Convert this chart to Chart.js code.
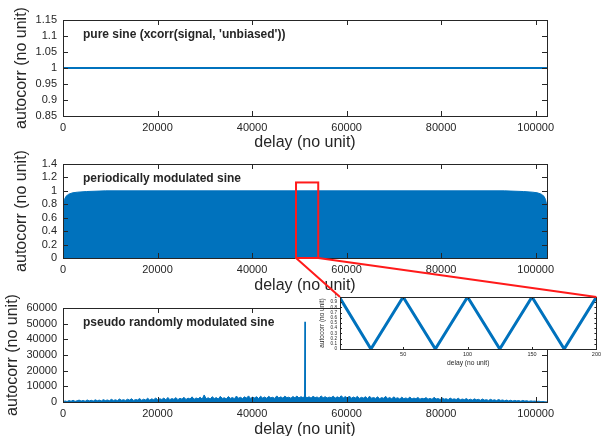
<!DOCTYPE html>
<html><head><meta charset="utf-8">
<script src="https://cdn.jsdelivr.net/npm/chart.js@4.4.1/dist/chart.umd.min.js"></script>
<style>
html,body{margin:0;padding:0;background:#fff;overflow:hidden;}
#wrap{position:relative;width:603px;height:436px;overflow:hidden;background:#fff;}
canvas{position:absolute;left:0;top:0;}
</style></head><body>
<div id="wrap">
<canvas id="c1" width="603" height="460"></canvas>
<canvas id="c2" width="603" height="460"></canvas>
<canvas id="c3" width="603" height="460"></canvas>
<canvas id="c4" width="603" height="460"></canvas>
</div>
<script>
// ---------- data ----------
const delayMax = 102400;
const delayTicks = [0, 20000, 40000, 60000, 80000, 100000];

// 1) pure sine
const pureDelay = [0, 102400];
const pureAutocorr = [1, 1];
const pureTicks = [0.85, 0.9, 0.95, 1, 1.05, 1.1, 1.15];

// 2) periodically modulated sine (envelope of the dense oscillation)
const modDelay = [0, 100, 300, 650, 1200, 2000, 3000, 5000, 9000, 51200, 93400, 97400, 99400, 100400, 101200, 101750, 102100, 102300, 102400];
const modAutocorr = [0.72, 0.8, 0.87, 0.92, 0.95, 0.97, 0.98, 0.99, 1.0, 1.0, 1.0, 0.99, 0.98, 0.97, 0.95, 0.92, 0.87, 0.8, 0.72];
const modTicks = [0, 0.2, 0.4, 0.6, 0.8, 1, 1.2, 1.4];
const zoomWindow = [49300, 54000];
const zoomTop = 1.125;

// 3) pseudo randomly modulated sine (evenly spaced samples of the noise floor + central peak)
const prnNoise = [
  100, 700, 300, 900, 500, 1100, 400, 800, 1200, 600, 1000, 500, 1300, 700, 1100, 600, 1400, 800, 1200, 700,
  1500, 900, 1300, 800, 1700, 1000, 1400, 900, 1900, 1100, 1500, 1000, 1800, 1200, 2100, 1000, 1600, 1300, 2200, 1100,
  1800, 1300, 2400, 1200, 2000, 1500, 2600, 1300, 2100, 1600, 2500, 1400, 2900, 1500, 2200, 1700, 2800, 1500, 2400, 1800,
  3000, 1600, 2500, 1900, 3300, 1700, 2600, 2000, 3100, 1800, 4500, 2100, 2700, 1900, 3400, 2200, 2800, 1900, 3600, 2300,
  2700, 2000, 3500, 2300, 2900, 2100, 3800, 2400, 3000, 2200, 3300, 2500, 3900, 2300, 3100, 2600, 3400, 2200, 3700, 2500,
  3200, 2400, 3600, 2700, 3000, 2300, 3900, 2600, 3300, 2500, 3700, 2800, 3100, 2400, 3500, 2700, 3800, 2600, 3400, 2800,
  3700, 2700, 3300, 2500, 3600, 2800, 3200, 2400, 3900, 2700, 3400, 2600, 3100, 2800, 3700, 2500, 3300, 2700, 4000, 2600,
  3500, 2500, 3800, 2400, 3200, 2600, 3600, 2300, 3000, 2500, 3400, 2200, 3700, 2400, 2900, 2300, 3300, 2100, 2800, 2400,
  3600, 2200, 2900, 2000, 3300, 2300, 2700, 1900, 3100, 2100, 2600, 2000, 3200, 1900, 2500, 2100, 2900, 1800, 2400, 2000,
  2800, 1800, 2300, 1700, 3000, 1900, 2200, 1600, 2600, 1800, 2100, 1500, 2500, 1700, 2000, 1600, 2400, 1400, 1900, 1500,
  2200, 1300, 1800, 1200, 2000, 1400, 1700, 1100, 1900, 1200, 1500, 1000, 1700, 1100, 1400, 900, 1600, 1000, 1300, 800,
  1200, 700, 1100, 600, 1000, 700, 900, 500, 1000, 600, 800, 400, 700, 500, 600, 300, 500, 200, 300, 100,
  50];
const peakDelay = [51150, 51200, 51250];
const peakAutocorr = [0, 51200, 0];
const prnTicks = [0, 10000, 20000, 30000, 40000, 50000, 60000];

// inset: zoom of periodically modulated sine
const zoomDelay = [1, 25, 50, 75, 100, 125, 150, 175, 200];
const zoomAutocorr = [0.98, 0, 1, 0, 1, 0, 1, 0, 1];
const zoomXTicks = [50, 100, 150, 200];
const zoomYTicks = [0, 0.1, 0.2, 0.3, 0.4, 0.5, 0.6, 0.7, 0.8, 0.9, 1];

// ---------- styling ----------
const FAM = '"Liberation Sans", Arial, Helvetica, sans-serif';
const TXT = '#262626';
const BLUE = '#0072BD';
Chart.defaults.font.family = FAM;
Chart.defaults.color = TXT;

const pts = (xs, ys) => xs.map((x, i) => ({x, y: ys[i]}));

function axesBox(o) {
  return {
    id: 'axesBox',
    beforeDraw(chart) {
      if (o.whiteBg) {
        const a = chart.chartArea, ctx = chart.ctx;
        ctx.save(); ctx.fillStyle = '#fff';
        ctx.fillRect(a.left, a.top, a.right - a.left, a.bottom - a.top);
        ctx.restore();
      }
    },
    afterDatasetsDraw(chart) {
      const {ctx, chartArea: a, scales: {x, y}} = chart;
      const L = o.tickLen;
      ctx.save();
      ctx.strokeStyle = TXT; ctx.lineWidth = 1;
      ctx.beginPath();
      x.ticks.forEach(t => {
        const px = Math.round(x.getPixelForValue(t.value)) + 0.5;
        ctx.moveTo(px, a.bottom); ctx.lineTo(px, a.bottom - L);
        ctx.moveTo(px, a.top); ctx.lineTo(px, a.top + L);
      });
      y.ticks.forEach(t => {
        const py = Math.round(y.getPixelForValue(t.value)) + 0.5;
        ctx.moveTo(a.left, py); ctx.lineTo(a.left + L, py);
        ctx.moveTo(a.right, py); ctx.lineTo(a.right - L, py);
      });
      ctx.stroke();
      ctx.strokeRect(Math.round(a.left) + 0.5, Math.round(a.top) + 0.5, Math.round(a.right - a.left), Math.round(a.bottom - a.top));
      if (o.title) {
        ctx.font = 'bold 12px ' + FAM;
        ctx.fillStyle = TXT; ctx.textBaseline = 'middle'; ctx.textAlign = 'left';
        ctx.fillText(o.title, a.left + 20, a.top + 15);
      }
      if (o.zoomBox) {
        const x0 = x.getPixelForValue(zoomWindow[0]), x1 = x.getPixelForValue(zoomWindow[1]);
        const y0 = y.getPixelForValue(zoomTop), y1 = y.getPixelForValue(0);
        ctx.strokeStyle = '#ff1a1a'; ctx.lineWidth = 2;
        ctx.strokeRect(x0, y0, x1 - x0, y1 - y0);
      }
      ctx.restore();
    },
    afterDraw(chart) {
      if (o.connect && o.connect()) {
        const m = o.connect();
        const mx = m.scales.x, my = m.scales.y;
        const a = chart.chartArea, ctx = chart.ctx;
        ctx.save();
        ctx.strokeStyle = '#ff1a1a'; ctx.lineWidth = 2;
        ctx.beginPath();
        ctx.moveTo(mx.getPixelForValue(zoomWindow[0]), my.getPixelForValue(0));
        ctx.lineTo(a.left, a.top);
        ctx.moveTo(mx.getPixelForValue(zoomWindow[1]), my.getPixelForValue(0));
        ctx.lineTo(a.right, a.top);
        ctx.stroke();
        ctx.restore();
      }
    }
  };
}

function xAxis(min, max, ticksArr, H, o) {
  o = o || {};
  return {
    type: 'linear', min, max, bounds: 'data',
    afterFit: s => { s.height = H; },
    afterBuildTicks: s => { s.ticks = ticksArr.map(v => ({value: v})); },
    grid: {display: false, drawTicks: false},
    border: {display: false},
    ticks: {autoSkip: false, maxRotation: 0, padding: o.pad ?? 5, color: TXT, font: {size: o.fs ?? 11}, callback: v => String(v)},
    title: {display: true, text: 'delay (no unit)', color: TXT, font: {size: o.tfs ?? 16, lineHeight: 1.2}, padding: {top: 0, bottom: 0}}
  };
}
function yAxis(min, max, ticksArr, W, o) {
  o = o || {};
  return {
    type: 'linear', min, max, bounds: 'data',
    afterFit: s => { s.width = W; },
    afterBuildTicks: s => { s.ticks = ticksArr.map(v => ({value: v})); },
    grid: {display: false, drawTicks: false},
    border: {display: false},
    ticks: {autoSkip: false, padding: o.pad ?? 6, color: TXT, font: {size: o.fs ?? 11}, callback: v => String(v)},
    title: {display: true, text: 'autocorr (no unit)', color: TXT, font: {size: o.tfs ?? 16, lineHeight: 1.2}, padding: {top: o.tpad ?? 12, bottom: 0}}
  };
}
const common = {
  responsive: false, animation: false, devicePixelRatio: 1,
  plugins: {legend: {display: false}, tooltip: {enabled: false}},
  elements: {point: {radius: 0}, line: {tension: 0}},
  events: []
};

// chart 1
new Chart(document.getElementById('c1'), {
  type: 'line',
  data: {datasets: [{data: pts(pureDelay, pureAutocorr), borderColor: BLUE, borderWidth: 2, fill: false}]},
  options: Object.assign({}, common, {
    layout: {padding: {left: 0, right: 56, top: 20, bottom: 460 - 116 - 36}},
    scales: {x: xAxis(0, delayMax, delayTicks, 36), y: yAxis(0.85, 1.15, pureTicks, 63)}
  }),
  plugins: [axesBox({tickLen: 5, title: "pure sine (xcorr(signal, 'unbiased'))"})]
});

// chart 2
const midChart = new Chart(document.getElementById('c2'), {
  type: 'line',
  data: {datasets: [{data: pts(modDelay, modAutocorr), borderColor: BLUE, backgroundColor: BLUE, borderWidth: 1, fill: 'origin'}]},
  options: Object.assign({}, common, {
    layout: {padding: {left: 0, right: 56, top: 164, bottom: 460 - 258 - 37}},
    scales: {x: xAxis(0, delayMax, delayTicks, 37), y: yAxis(0, 1.4, modTicks, 63)}
  }),
  plugins: [axesBox({tickLen: 5, title: 'periodically modulated sine', zoomBox: true})]
});

// chart 3
const prnDelay = prnNoise.map((_, i) => i * delayMax / (prnNoise.length - 1));
new Chart(document.getElementById('c3'), {
  type: 'line',
  data: {datasets: [
    {data: pts(prnDelay, prnNoise), borderColor: BLUE, backgroundColor: BLUE, borderWidth: 1, fill: 'origin'},
    {data: pts(peakDelay, peakAutocorr), borderColor: BLUE, borderWidth: 1.5, fill: false}
  ]},
  options: Object.assign({}, common, {
    layout: {padding: {left: 0, right: 56, top: 308, bottom: 460 - 402 - 37}},
    scales: {x: xAxis(0, delayMax, delayTicks, 37), y: yAxis(0, 60000, prnTicks, 63, {tpad: 3})}
  }),
  plugins: [axesBox({tickLen: 5, title: 'pseudo randomly modulated sine'})]
});

// chart 4 (inset)
new Chart(document.getElementById('c4'), {
  type: 'line',
  data: {datasets: [{data: pts(zoomDelay, zoomAutocorr), borderColor: BLUE, borderWidth: 3, fill: false}]},
  options: Object.assign({}, common, {
    layout: {padding: {left: 316, right: 2, top: 297, bottom: 460 - 349 - 18}},
    scales: {
      x: xAxis(1, 200, zoomXTicks, 18, {pad: 2, fs: 5.5, tfs: 6.7}),
      y: yAxis(0, 1, zoomYTicks, 24, {pad: 3, fs: 4.6, tfs: 6.5, tpad: 2})
    }
  }),
  plugins: [axesBox({tickLen: 2, whiteBg: true, connect: () => midChart})]
});
</script>
</body></html>
